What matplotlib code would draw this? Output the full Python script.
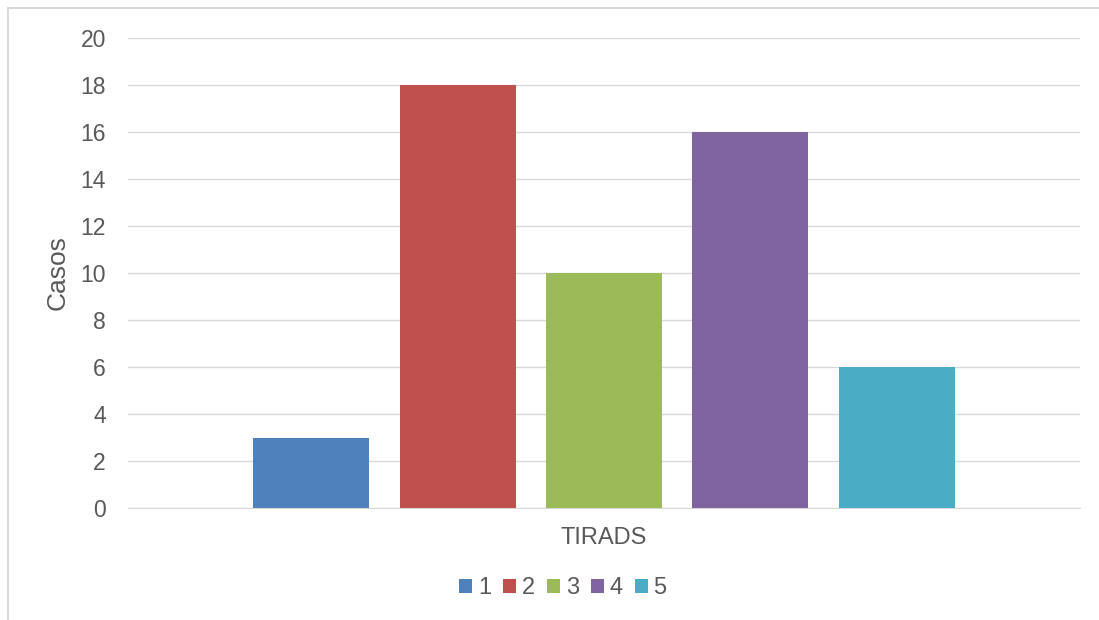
import numpy as np
import matplotlib.pyplot as plt
from matplotlib.lines import Line2D

# datos
series = ['1', '2', '3', '4', '5']
casos = [3, 18, 10, 16, 6]
colores = ['#4f81bd', '#c0504d', '#9bbb59', '#8064a2', '#4bacc6']
yticks = [0, 2, 4, 6, 8, 10, 12, 14, 16, 18, 20]

plt.rcParams['font.family'] = ['Liberation Sans', 'DejaVu Sans']
gris = '#595959'

fig = plt.figure(figsize=(10.99, 6.2), dpi=100)
ax = fig.add_axes([128/1099, 1 - 508/620, 952/1099, 470/620])

paso = 146.3 / 952
ancho = 116 / 952
for i, (s, v, c) in enumerate(zip(series, casos, colores)):
    ax.bar((i - 2) * paso, v, width=ancho, color=c, label=s, zorder=3)

ax.set_xlim(-0.5, 0.5)
ax.set_ylim(0, 20)
ax.set_yticks(yticks)
ax.set_xticks([0])
ax.set_xticklabels(['TIRADS'])
ax.tick_params(axis='x', length=0, pad=14, labelsize=17, labelcolor=gris)
ax.tick_params(axis='y', length=0, pad=16, labelsize=16.5, labelcolor=gris)
ax.grid(axis='y', color='#d9d9d9', linewidth=1, zorder=0)
for sp in ['top', 'right', 'left']:
    ax.spines[sp].set_visible(False)
ax.spines['bottom'].set_color('#d9d9d9')
ax.set_ylabel('Casos', fontsize=19, color=gris, labelpad=8)

leg = fig.legend(loc='center', bbox_to_anchor=(563/1099, 1 - 588/620), ncol=5,
                 frameon=False, fontsize=17, handlelength=0.55, handleheight=0.55,
                 handletextpad=0.25, columnspacing=0.5, labelcolor=gris)

# borde parcial del gráfico
fig.add_artist(Line2D([8/1099, 8/1099], [0, 1 - 8/620], color='#d9d9d9', lw=1.5, transform=fig.transFigure))
fig.add_artist(Line2D([8/1099, 1], [1 - 8/620, 1 - 8/620], color='#d9d9d9', lw=1.5, transform=fig.transFigure))

fig.savefig('out.png', dpi=100)
